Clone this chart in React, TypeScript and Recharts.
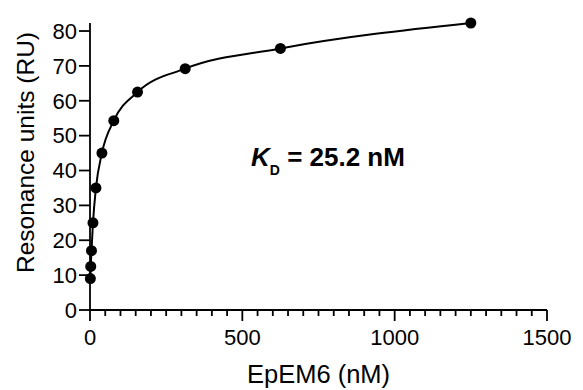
import React from 'react';
import {ComposedChart, Line, Scatter, XAxis, YAxis} from 'recharts';

// EpEM6 concentrations (nM), 2-fold dilution series
const concentrations = [1.22, 2.44, 4.88, 9.77, 19.5, 39.1, 78.1, 156, 312.5, 625, 1250];
// steady-state response (RU)
const responses = [9, 12.5, 17, 25, 35, 45, 54.3, 62.5, 69.2, 75, 82.3];

const majorXTicks = [0, 500, 1000, 1500];
const allXTicks = [
    0, 50, 100, 150, 200, 250, 300, 350, 400, 450,
    500, 550, 600, 650, 700, 750, 800, 850, 900, 950,
    1000, 1050, 1100, 1150, 1200, 1250, 1300, 1350, 1400, 1450, 1500
];
const yTicks = [0, 10, 20, 30, 40, 50, 60, 70, 80];

const data = concentrations.map((x, i) => ({x, y: responses[i]}));

const FONT = '"Liberation Sans", Arial, sans-serif';
const LW = 1.8;

const XTick = (props: any) => {
    const {x, y, payload} = props;
    const major = majorXTicks.includes(payload.value);
    return (
        <g>
            <line x1={x} x2={x} y1={y} y2={y + (major ? 11 : 6)} stroke="#000" strokeWidth={LW}/>
            {major && (
                <text x={x} y={y + 35} textAnchor="middle" fontSize={22} fontFamily={FONT} fill="#000">
                    {payload.value}
                </text>
            )}
        </g>
    );
};

const Dot = (p: any) => <circle cx={p.cx} cy={p.cy} r={5.5} fill="#000"/>;

const App: React.FC = () => {
    return (
        <div style={{position: 'absolute', left: 0, top: 0, width: 583, height: 390, background: '#fff'}}>
            <ComposedChart width={583} height={390} data={data}
                           margin={{top: 23, right: 36, left: 0, bottom: 0}}
                           style={{fontFamily: FONT}}>
                <XAxis type="number" dataKey="x" domain={[0, 1500]} ticks={allXTicks} interval={0}
                       height={80} tickSize={0} tickMargin={0} tickLine={false} tick={<XTick/>}
                       axisLine={{stroke: '#000', strokeWidth: LW}}
                       label={{
                           content: (p: any) => {
                               const vb = p.viewBox;
                               return (
                                   <text x={vb.x + vb.width / 2} y={vb.y + 73} textAnchor="middle"
                                         fontSize={25.5} fontFamily={FONT} fill="#000">EpEM6 (nM)</text>
                               );
                           }
                       }}/>
                <YAxis type="number" domain={[0, 80]} ticks={yTicks} interval={0} width={90}
                       tickSize={11} tickMargin={2}
                       tick={{fill: '#000', fontSize: 22, fontFamily: FONT}}
                       tickLine={{stroke: '#000', strokeWidth: LW}}
                       axisLine={{stroke: '#000', strokeWidth: LW}}
                       label={{
                           content: (p: any) => {
                               const vb = p.viewBox;
                               const cx = vb.x + 25;
                               const cy = vb.y + 129.5;
                               return (
                                   <text x={cx} y={cy} transform={`rotate(-90 ${cx} ${cy})`}
                                         textAnchor="middle" dominantBaseline="central"
                                         fontSize={24.5} fontFamily={FONT} fill="#000">Resonance units (RU)</text>
                               );
                           }
                       }}/>
                <Line type="monotone" dataKey="y" stroke="#000" strokeWidth={2} dot={false}
                      isAnimationActive={false}/>
                <Scatter dataKey="y" shape={<Dot/>} isAnimationActive={false}/>
            </ComposedChart>
            <svg width={583} height={390} style={{position: 'absolute', left: 0, top: 0, pointerEvents: 'none'}}>
                <text x={251} y={166} fontFamily={FONT} fontWeight="bold" fontSize={26} fill="#000">
                    <tspan fontStyle="italic">K</tspan>
                    <tspan fontSize={14} dy={9}>D</tspan>
                    <tspan dy={-9}> = 25.2 nM</tspan>
                </text>
            </svg>
        </div>
    );
};

export default App;
